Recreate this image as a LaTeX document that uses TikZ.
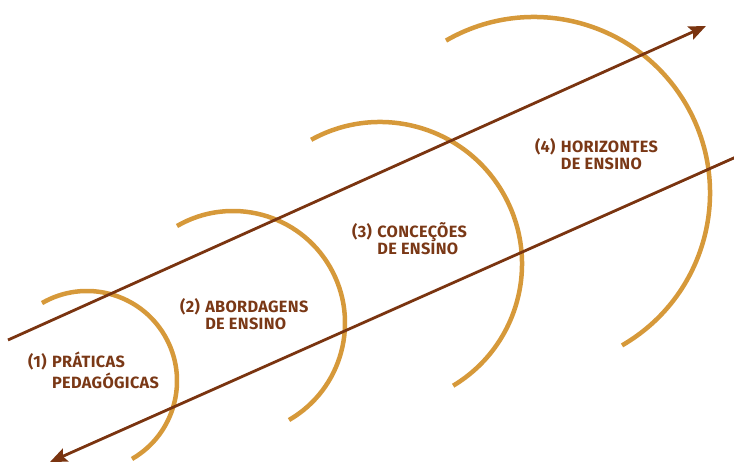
\documentclass[tikz,border=0pt]{standalone}
\usepackage{fontspec}
\setmainfont{Fira Sans}[LetterSpace=2]
\usetikzlibrary{arrows.meta}
\definecolor{arrowbrown}{RGB}{122,52,16}
\definecolor{arcgold}{RGB}{214,153,58}
\definecolor{textbrown}{RGB}{122,56,22}
\tikzset{
  ring/.style={draw=arcgold, line width=4.5pt},
  axis/.style={draw=arrowbrown, line width=2.8pt, -{Stealth[length=17pt,width=14pt,inset=3pt]}},
  lbl/.style={anchor=base west, inner sep=0pt, text=textbrown, font=\fontsize{16.3}{16.5}\selectfont\bfseries}
}
\newcommand{\lab}[3]{\begin{tabular}[t]{@{}l@{\,\,}l@{}}#1&#2\\&#3\end{tabular}}
\begin{document}
\begin{tikzpicture}[x=1pt,y=1pt]
\useasboundingbox (0,0) rectangle (734,463);
% arcs
\coordinate (c1) at (87,82);
\coordinate (c2) at (233,140);
\coordinate (c3) at (380,199);
\coordinate (c4) at (534,270);
\draw[ring] (c1) ++(120:90pt) arc[start angle=120, end angle=-60, radius=90pt];
\draw[ring] (c2) ++(120:112pt) arc[start angle=120, end angle=-60, radius=112pt];
\draw[ring] (c3) ++(119:142pt) arc[start angle=119, end angle=-59, radius=142pt];
\draw[ring] (c4) ++(120:176pt) arc[start angle=120, end angle=-60, radius=176pt];
% arrows
\coordinate (a1s) at (8,123);
\coordinate (a1e) at (706,437);
\coordinate (a2s) at (736,306);
\coordinate (a2e) at (50,1);
\draw[axis] (a1s) -- (a1e);
\draw[axis] (a2s) -- (a2e);
% labels
\node[lbl] (l1) at (28,95) {\lab{(1)}{PRÁTICAS}{PEDAGÓGICAS}};
\node[lbl] (l2) at (180,150) {\lab{(2)}{ABORDAGENS}{DE ENSINO}};
\node[lbl] (l3) at (352,225) {\lab{(3)}{CONCEÇÕES}{DE ENSINO}};
\node[lbl] (l4) at (535,310) {\lab{(4)}{HORIZONTES}{DE ENSINO}};
\end{tikzpicture}
\end{document}
